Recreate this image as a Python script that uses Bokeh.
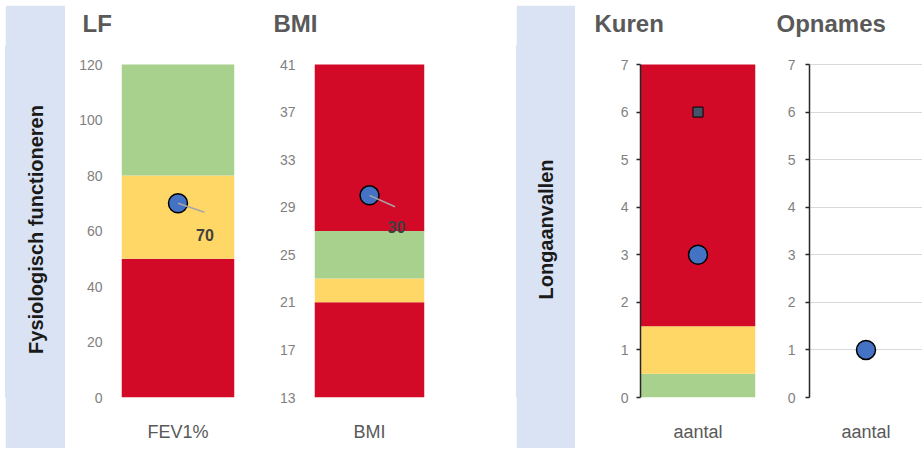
import math
from bokeh.plotting import figure
from bokeh.layouts import row
from bokeh.models import Range1d, FactorRange, FixedTicker, Label
from bokeh.core.properties import value
from bokeh.embed import file_html
from bokeh.resources import INLINE

FONT = "Liberation Sans"
RED = "#D20A28"
YELLOW = "#FED766"
GREEN = "#A9D18E"
BAND = "#DAE3F3"
POINT = "#4472C4"
SQUARE = "#44546A"

# ---------------- data ----------------
lf_cat = ["FEV1%"]
lf_band_bottom = [0, 50, 80]
lf_band_top = [50, 80, 120]
lf_band_color = [RED, YELLOW, GREEN]
lf_value = [70]
lf_ticks = [0, 20, 40, 60, 80, 100, 120]

bmi_cat = ["BMI"]
bmi_band_bottom = [13, 21, 23, 27]
bmi_band_top = [21, 23, 27, 41]
bmi_band_color = [RED, YELLOW, GREEN, RED]
bmi_value = [30]
bmi_ticks = [13, 17, 21, 25, 29, 33, 37, 41]

kuren_cat = ["aantal"]
kuren_band_bottom = [0, 0.5, 1.5]
kuren_band_top = [0.5, 1.5, 7]
kuren_band_color = [GREEN, YELLOW, RED]
kuren_value = [3]
kuren_marker = [6]

opnames_cat = ["aantal"]
opnames_value = [1]
count_ticks = [0, 1, 2, 3, 4, 5, 6, 7]

# ---------------- layout (pixels) ----------------
H = 449
FRAME_TOP = 41      # top of plot frame (title panel above)
BAR_TOP = 64        # pixel row of the top of the value scale
BOTTOM = 397        # pixel row of the bottom of the value scale


def band(label, width, m_left, m_right):
    p = figure(width=width, height=H - 6, x_range=Range1d(0, 1), y_range=Range1d(0, 1),
               x_axis_location=None, y_axis_location=None,
               min_border=0, margin=(5, m_right, 1, m_left),
               background_fill_color=BAND, border_fill_color=BAND,
               output_backend="svg", toolbar_location=None)
    p.grid.visible = False
    p.outline_line_color = BAND
    p.outline_line_width = 2
    p.add_layout(Label(x=0.5, y=0.5, y_offset=-8, text=label, angle=math.pi / 2,
                       text_align="center", text_baseline="middle",
                       text_font=FONT, text_font_size="20px",
                       text_font_style="bold", text_color="#1A1A1A"))
    return p


def panel(title, cat, y0, y1, ticks, width, left, right, title_dx, axis_line=False, grid=False):
    # extend the range above the scale top so that the scale fills BAR_TOP..BOTTOM
    y_end = y1 + (y1 - y0) * (BAR_TOP - FRAME_TOP) / (BOTTOM - BAR_TOP)
    p = figure(width=width, height=H, title=title,
               x_range=FactorRange(factors=cat, range_padding=0),
               y_range=Range1d(y0, y_end),
               min_border_left=left, min_border_right=right,
               min_border_top=FRAME_TOP, min_border_bottom=H - BOTTOM,
               border_fill_color="white", background_fill_color="white",
               output_backend="svg", toolbar_location=None)
    p.outline_line_color = None
    p.title.text_font = FONT
    p.title.text_font_size = "24px"
    p.title.text_font_style = "bold"
    p.title.text_color = "#595959"
    p.title.align = "left"
    p.title.offset = title_dx
    p.title.standoff = 10

    p.xaxis.axis_line_color = None
    p.xaxis.major_tick_line_color = None
    p.xaxis.minor_tick_line_color = None
    p.xaxis.major_label_text_font = FONT
    p.xaxis.major_label_text_font_size = "18px"
    p.xaxis.major_label_text_color = "#595959"
    p.xaxis.major_label_standoff = 18

    p.yaxis.ticker = FixedTicker(ticks=ticks)
    p.yaxis.bounds = (y0, y1)
    p.yaxis.minor_tick_line_color = None
    p.yaxis.major_label_text_font = FONT
    p.yaxis.major_label_text_font_size = "14px"
    p.yaxis.major_label_text_color = "#7F7F7F"
    if axis_line:
        p.yaxis.axis_line_color = "#262626"
        p.yaxis.axis_line_width = 1.5
        p.yaxis.major_tick_line_color = "#262626"
        p.yaxis.major_tick_line_width = 1.5
        p.yaxis.major_tick_out = 4
        p.yaxis.major_tick_in = 0
        p.yaxis.major_label_standoff = 8
    else:
        p.yaxis.axis_line_color = None
        p.yaxis.major_tick_line_color = None
        p.yaxis.major_label_standoff = 13

    p.xgrid.visible = False
    if grid:
        p.ygrid.grid_line_color = "#D9D9D9"
        p.ygrid.grid_line_width = 1
    else:
        p.ygrid.visible = False
    return p


def bands(p, cat, bottom, top, colors):
    p.vbar(x=[cat[0]] * len(bottom), width=1.0, bottom=bottom, top=top,
           fill_color=colors, line_color=None)


def point(p, cat, vals, label=False, angle=-0.35):
    p.scatter(x=cat * len(vals), y=vals, marker="circle", size=19,
              fill_color=POINT, line_color="black", line_width=1.5)
    if label:
        p.ray(x=cat * len(vals), y=vals, length=28, length_units="screen",
              angle=angle, line_color="#A6A6A6", line_width=1.5)
        p.text(x=cat * len(vals), y=vals, text=[str(v) for v in vals],
               x_offset=27, y_offset=32, text_font=value(FONT),
               text_font_size="16px", text_font_style="bold",
               text_color="#404040", text_align="center", text_baseline="middle")


b1 = band("Fysiologisch functioneren", 60, 5, 1)

p_lf = panel("LF", lf_cat, 0, 120, lf_ticks, 194, 55, 26, 82 - 121)
bands(p_lf, lf_cat, lf_band_bottom, lf_band_top, lf_band_color)
point(p_lf, lf_cat, lf_value, label=True, angle=-0.33)

p_bmi = panel("BMI", bmi_cat, 13, 41, bmi_ticks, 252, 54, 88, 273 - 314)
bands(p_bmi, bmi_cat, bmi_band_bottom, bmi_band_top, bmi_band_color)
point(p_bmi, bmi_cat, bmi_value, label=True, angle=-0.42)

b2 = band("Longaanvallen", 59, 4, 2)

p_k = panel("Kuren", kuren_cat, 0, 7, count_ticks, 195, 63, 17, 594 - 640, axis_line=True)
bands(p_k, kuren_cat, kuren_band_bottom, kuren_band_top, kuren_band_color)
p_k.scatter(x=kuren_cat * len(kuren_marker), y=kuren_marker, marker="square", size=10,
            fill_color=SQUARE, line_color="black", line_width=1)
point(p_k, kuren_cat, kuren_value)

p_o = panel("Opnames", opnames_cat, 0, 7, count_ticks, 150, 37, 0, 776 - 809, axis_line=True, grid=True)
p_o.yaxis.major_label_standoff = 10
point(p_o, opnames_cat, opnames_value)

layout = row(b1, p_lf, p_bmi, b2, p_k, p_o, spacing=0)

with open("out.html", "w") as f:
    f.write(file_html(layout, INLINE))
